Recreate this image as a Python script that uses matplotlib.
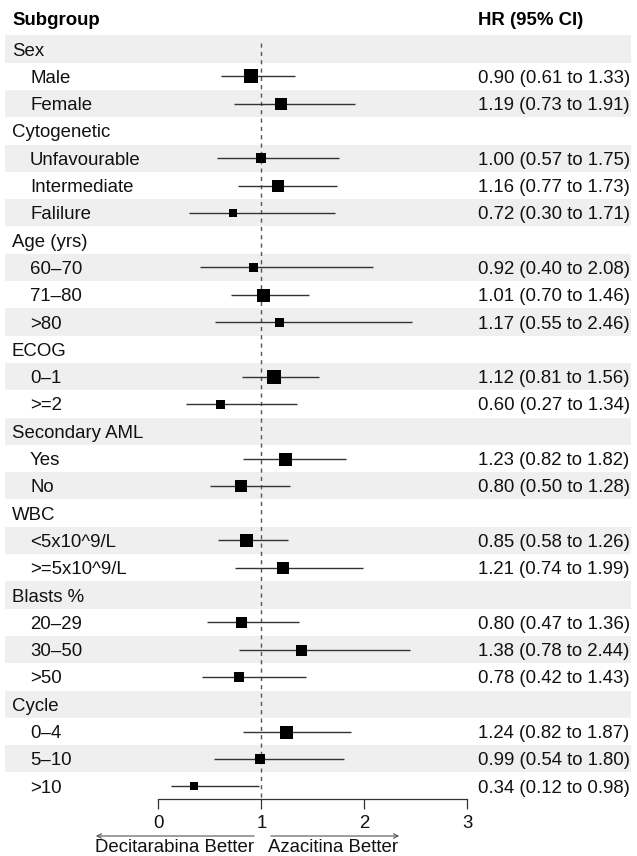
import matplotlib
matplotlib.use("Agg")
import matplotlib.pyplot as plt

plt.rcParams['font.family'] = ['Liberation Sans', 'DejaVu Sans']

# subgroup data
groups = ["Sex", "Cytogenetic", "Age (yrs)", "ECOG", "Secondary AML", "WBC", "Blasts %", "Cycle"]
levels = [
    ["Male", "Female"],
    ["Unfavourable", "Intermediate", "Falilure"],
    ["60\u201370", "71\u201380", ">80"],
    ["0\u20131", ">=2"],
    ["Yes", "No"],
    ["<5x10^9/L", ">=5x10^9/L"],
    ["20\u201329", "30\u201350", ">50"],
    ["0\u20134", "5\u201310", ">10"],
]
hr = [0.90, 1.19, 1.00, 1.16, 0.72, 0.92, 1.01, 1.17, 1.12, 0.60,
      1.23, 0.80, 0.85, 1.21, 0.80, 1.38, 0.78, 1.24, 0.99, 0.34]
ci_low = [0.61, 0.73, 0.57, 0.77, 0.30, 0.40, 0.70, 0.55, 0.81, 0.27,
          0.82, 0.50, 0.58, 0.74, 0.47, 0.78, 0.42, 0.82, 0.54, 0.12]
ci_high = [1.33, 1.91, 1.75, 1.73, 1.71, 2.08, 1.46, 2.46, 1.56, 1.34,
           1.82, 1.28, 1.26, 1.99, 1.36, 2.44, 1.43, 1.87, 1.80, 0.98]
# relative box weights
weights = [13.5, 12, 10.5, 12.5, 8, 9, 13, 9, 14, 9,
           13, 12, 13, 11.5, 11, 11, 10, 13, 10.5, 7.5]
xticks = [0, 1, 2, 3]

W, H = 637, 856
fig = plt.figure(figsize=(W / 100, H / 100), dpi=100)
ax = fig.add_axes([0, 0, 1, 1])

# map pixels: x=0 at 158.5px, 103px per unit; row 0 at 49px, 27.3px per row
x0, xs = 158.5, 103.0
y0, ys = 49.0, 27.3
ax.set_xlim(-x0 / xs, (W - x0) / xs)
ax.set_ylim((H - y0) / ys, -y0 / ys)

fs = 13.4
lab_x = 12 / W
sub_x = 30 / W
hr_x = 478 / W

ax.text(lab_x, (18 - y0) / ys, "Subgroup", transform=ax.get_yaxis_transform(),
        fontsize=fs, fontweight='bold', va='center_baseline')
ax.text(hr_x, (18 - y0) / ys, "HR (95% CI)", transform=ax.get_yaxis_transform(),
        fontsize=fs, fontweight='bold', va='center_baseline')

row = 0
k = 0
for g, subs in zip(groups, levels):
    rows = [(g, None)] + [(s, k + j) for j, s in enumerate(subs)]
    k += len(subs)
    for name, idx in rows:
        if row % 2 == 0:
            ax.axhspan(row - 0.5, row + 0.5, xmin=5 / W, xmax=631 / W,
                       color='#efefef', lw=0, zorder=0)
        tx = lab_x if idx is None else sub_x
        ax.text(tx, row, name, transform=ax.get_yaxis_transform(),
                fontsize=fs, va='center_baseline', color='#111111')
        if idx is not None:
            ax.plot([ci_low[idx], ci_high[idx]], [row, row], color='#333333',
                    lw=1.0, solid_capstyle='butt', zorder=2)
            ax.plot(hr[idx], row, marker='s', color='black',
                    markersize=weights[idx] * 0.72, mew=0, zorder=3)
            ax.text(hr_x, row, "%.2f (%.2f to %.2f)" % (hr[idx], ci_low[idx], ci_high[idx]),
                    transform=ax.get_yaxis_transform(), fontsize=fs,
                    va='center_baseline', color='#111111')
        row += 1

axis_y = (799 - y0) / ys
ax.plot([1, 1], [(43 - y0) / ys, axis_y], color='#555555', lw=1.0,
        dashes=(3, 3), zorder=1)

# bottom axis
for s in ['top', 'left', 'right']:
    ax.spines[s].set_visible(False)
ax.spines['bottom'].set_position(('data', axis_y))
ax.spines['bottom'].set_bounds(0, 3)
ax.spines['bottom'].set_color('#333333')
ax.spines['bottom'].set_linewidth(0.9)
ax.set_xticks(xticks)
ax.set_xticklabels([str(t) for t in xticks])
ax.tick_params(axis='x', length=7.2, width=0.9, color='#333333', pad=4,
               labelsize=fs, labelcolor='#111111')
ax.set_yticks([])
ax.patch.set_alpha(0)

arr_y = (836 - y0) / ys
txt_y = (845 - y0) / ys
ax.annotate("", xy=((93 - x0) / xs, arr_y), xytext=((257 - x0) / xs, arr_y),
            arrowprops=dict(arrowstyle='->', color='#555555', lw=0.8,
                            mutation_scale=8))
ax.annotate("", xy=((402 - x0) / xs, arr_y), xytext=((268 - x0) / xs, arr_y),
            arrowprops=dict(arrowstyle='->', color='#555555', lw=0.8,
                            mutation_scale=8))
ax.text((254 - x0) / xs, txt_y, "Decitarabina Better", fontsize=fs,
        ha='right', va='center_baseline', color='#111111')
ax.text((268 - x0) / xs, txt_y, "Azacitina Better", fontsize=fs,
        ha='left', va='center_baseline', color='#111111')

fig.savefig("out.png", dpi=100)
